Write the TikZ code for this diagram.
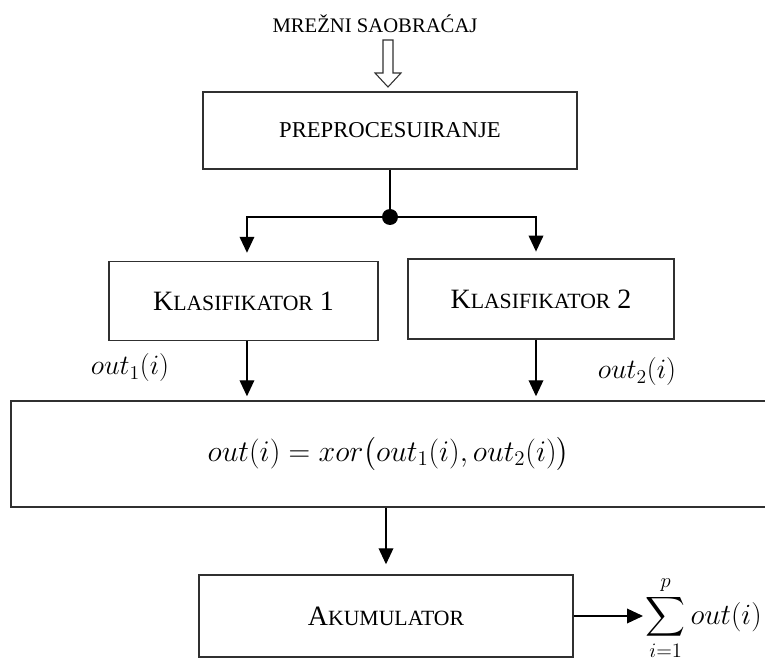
\RequirePackage{fix-cm}
\documentclass[tikz,border=0pt]{standalone}
\usepackage{exscale}
\usepackage[no-math]{fontspec}
\setmainfont{Liberation Serif}
\usetikzlibrary{arrows.meta, calc}
\definecolor{cline}{HTML}{303030}
\newcommand{\fakesc}[2]{#1{\fontsize{16.3}{19}\selectfont #2}}
\tikzset{
  every picture/.style={line width=1.1pt},
  box/.style={draw=cline, inner sep=0pt, align=center, font=\fontsize{21}{25}\selectfont},
  arrow/.style={-{Triangle[length=12pt, width=11pt]}, draw=black},
  hollow/.style={draw=cline, line width=0.8pt, fill=white},
  mathlbl/.style={inner sep=0pt, font=\fontsize{21}{25}\selectfont},
  title/.style={inner sep=0pt, font=\fontsize{15.5}{18}\selectfont},
}
\begin{document}
\begin{tikzpicture}[x=0.75pt, y=-0.75pt]
  \useasboundingbox (0,0) rectangle (765,659);
  \node[title, anchor=base] (traffic) at (375,33) {MREŽNI SAOBRAĆAJ};
  \node[box, minimum width=280.5pt, minimum height=57.75pt, font=\fontsize{17}{20}\selectfont] (pre) at (390,130.5) {PREPROCESUIRANJE};
  \node[box, minimum width=201.75pt, minimum height=59.25pt] (k1) at (243.5,301) {\fakesc{K}{LASIFIKATOR} 1};
  \node[box, minimum width=199.5pt, minimum height=60pt] (k2) at (541,299) {\fakesc{K}{LASIFIKATOR} 2};
  \node[box, minimum width=566.25pt, minimum height=79.5pt, font=\fontsize{22.5}{27}\selectfont] (xor) at (388.5,454) {$out(i) = xor\bigl(out_1(i),out_2(i)\bigr)$};
  \node[box, minimum width=280.5pt, minimum height=61.5pt] (acc) at (386,616) {\fakesc{A}{KUMULATOR}};
  \node[mathlbl] (out1) at (130,368) {$out_1(i)$};
  \node[mathlbl] (out2) at (637,372) {$out_2(i)$};
  \node[mathlbl, anchor=west, font=\fontsize{22}{26}\selectfont] (sum) at (645,618) {$\displaystyle\sum_{i=1}^{p} out(i)$};
  \coordinate (top) at (388,40);
  \coordinate (split) at (390,217);
  \draw[hollow] (top) ++(-5,0) -- ++(10,0) -- ++(0,33) -- ++(8,0) -- ($(top)+(0,47)$) -- ++(-13,-14) -- ++(8,0) -- cycle;
  \draw[draw=black] (pre.south) -- (split);
  \fill (split) circle (6pt);
  \draw[arrow, shorten >=6pt] (split) -| ([xshift=2.6pt]k1.north);
  \draw[arrow, shorten >=5pt] (split) -| ([xshift=-3.75pt]k2.north);
  \draw[arrow, shorten >=3pt] ([xshift=2.6pt]k1.south) -- ([xshift=2.6pt]k1.south |- xor.north);
  \draw[arrow, shorten >=3pt] ([xshift=-3.75pt]k2.south) -- ([xshift=-3.75pt]k2.south |- xor.north);
  \draw[arrow, shorten >=7.5pt] (xor.south -| acc.north) -- (acc.north);
  \draw[arrow, shorten >=1.5pt] (acc.east) -- (acc.east -| sum.west);
\end{tikzpicture}
\end{document}
